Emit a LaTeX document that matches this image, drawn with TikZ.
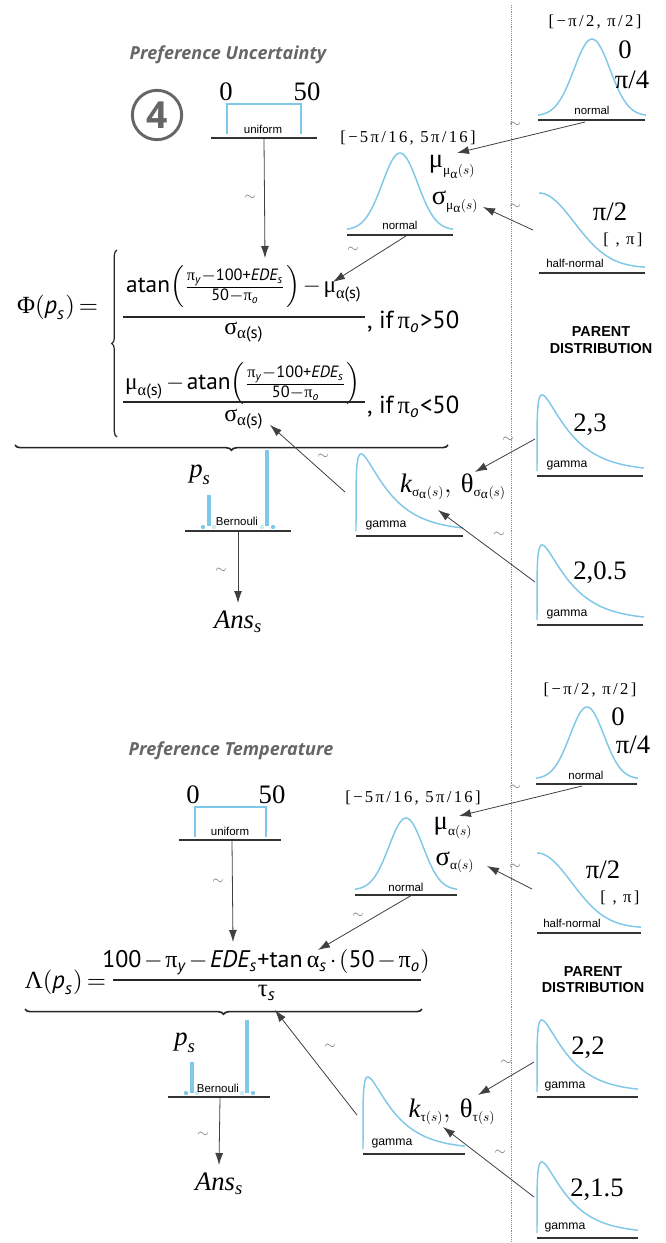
\documentclass[tikz,border=0pt]{standalone}
\usepackage{fontspec}
\usepackage{amsmath}
\usepackage{graphicx}
\usetikzlibrary{arrows.meta,decorations.pathreplacing}
\setmainfont{Liberation Serif}
\newfontfamily\fsans{PT Sans}
\newfontfamily\ftit{Open Sans}
\newfontfamily\fhelv{Liberation Sans}
\definecolor{dblue}{RGB}{128,200,232}
\definecolor{lblue}{RGB}{205,232,245}
\definecolor{tgray}{RGB}{102,102,102}
\newcommand\Ts[1]{\text{\fsans\upshape #1}}
\newcommand\Ti[1]{\text{\fsans\itshape #1}}
\newcommand\Tg[1]{\text{\rmfamily\upshape #1}}
\newcommand\fmsp{\medmuskip=2mu\relax\thickmuskip=3mu\relax}
\newcommand\bellc[4]{\draw[dist] plot[domain=-3:3,samples=61,smooth] ({#1+(\x)*#3/3},{#2-#4*exp(-0.5*(\x)*(\x))});}
\newcommand\halfc[4]{\draw[dist] plot[domain=0:3,samples=40,smooth] ({#1+(\x)*#3/3},{#2-#4*exp(-0.5*(\x)*(\x))});}
\newcommand\gammc[4]{\draw[dist] (#1,#2) -- plot[domain=0.05:2,samples=80,smooth] ({#1+(\x)*(\x)*#3/4},{#2-#4*pow(\x,0.38)*exp(-(\x)*(\x))/0.603});}
\newcommand\FM[2][1.9]{\scalebox{#1}{\fmsp$#2$}}
\tikzset{
  dist/.style={draw=dblue, line width=1.1pt},
  base/.style={draw=black!80, line width=1.1pt},
  arr/.style={draw=black!75, line width=0.6pt, -{Latex[length=9pt,width=6pt]}},
  sepline/.style={draw=black!45, line width=0.6pt, dash pattern=on 0.7pt off 0.7pt},
  tl/.style={font=\fontsize{11}{12}\selectfont, text=black!55},
  dlab/.style={font=\fhelv\fontsize{8.6}{10}\selectfont},
  glab/.style={font=\fhelv\fontsize{9.2}{10}\selectfont},
  lab/.style={font=\fontsize{20}{24}\selectfont},
  rng/.style={font=\fontsize{12.5}{14}\selectfont\addfontfeatures{LetterSpace=14}},
  par/.style={font=\fhelv\bfseries\fontsize{10.8}{13}\selectfont},
  title/.style={font=\ftit\bfseries\itshape\fontsize{13.5}{16}\selectfont, text=tgray},
  circ/.style={draw=tgray, circle, line width=2.2pt, minimum size=37pt, text=tgray, font=\ftit\bfseries\fontsize{28}{30}\selectfont},
  fm/.style={font=\fsans\fontsize{10}{12}\selectfont},
  fbar/.style={draw=black!85, line width=1.4pt},
  bracev/.style={draw=black!85, line width=0.9pt, decorate, decoration={brace, amplitude=4pt}},
  braceh/.style={draw=black!85, line width=1.2pt, decorate, decoration={brace, amplitude=4pt}},
  bar/.style={draw=dblue, line width=2.6pt},
  ans/.style={font=\fontsize{20}{24}\selectfont\itshape},
}
\begin{document}
\begin{tikzpicture}[x=0.75pt,y=-0.75pt, every node/.style={inner sep=0pt, outer sep=0pt}]
\useasboundingbox (0,0) rectangle (665,1243);
\fill[white] (0,0) rectangle (665,1243);
\draw[sepline] (511,5) -- (511,1243);

% ================= TOP =================
\node[title] (t1) at (228,55) {Preference Uncertainty};
\node[circ] (c4) at (157,115) {4};
% uniform
\node[lab] (u1lo) at (226,92) {0};
\node[lab] (u1hi) at (307,92) {50};
\draw[dist] (227,134) -- (227,104) -- (301,104) -- (301,134);
\node[dlab] (u1) at (263,129) {uniform};
\draw[base] (211,138) -- (317,138);
% top-right normal
\node[rng] (r1) at (595,22) {[−π/2, π/2]};
\bellc{592}{116}{54}{77}
\node[dlab] (n1) at (592,110) {normal};
\draw[base] (538,120) -- (645,120);
\node[lab] (n1m) at (625,50) {0};
\node[lab] (n1s) at (632,80) {π/4};
% middle normal
\node[rng] (r2) at (408,138) {[−5π/16, 5π/16]};
\bellc{400}{230}{53}{77}
\node[dlab] (n2) at (400,225) {normal};
\draw[base] (347,235) -- (453,235);
\node[lab] (mu1) at (452,167) {$\text{μ}_{\scriptscriptstyle\text{μ}_{\text{α}}(s)}$};
\node[lab] (sg1) at (455,202) {$\text{σ}_{\scriptscriptstyle\text{μ}_{\text{α}}(s)}$};
% half normal
\halfc{539}{268}{106}{75}
\node[dlab] (h1) at (575,263) {half-normal};
\draw[base] (539,273) -- (645,273);
\node[lab] (h1a) at (610,212) {π/2};
\node[rng] (h1b) at (623,240) {[ , π]};
% formula
\node[fm, anchor=west] (phi) at (17,307) {\FM[1.85]{\Tg{Φ}(\Ti{p}_{\Ti{s}})=}};
\draw[bracev] (117,437) -- (117,250);
\node[fm] (num1) at (244,287) {\FM[1.75]{\Ts{atan}\Bigl(\frac{\Tg{π}_{\Ti{y}}-\Ts{100+}\Ti{EDE}_{\Ti{s}}}{\Ts{50}-\Tg{π}_{\Ti{o}}}\Bigr)-\Tg{μ}_{\Tg{α}\Ts{(s)}}}};
\draw[fbar] (123,317) -- (365,317);
\node[fm] (den1) at (244,332) {\FM[1.8]{\Tg{σ}_{\Tg{α}\Ts{(s)}}}};
\node[fm, anchor=west] (if1) at (367,322) {\FM[1.85]{\Ts{, if\,}\Tg{π}_{\Ti{o}}\Ts{>50}}};
\node[fm] (num2) at (243,384) {\FM[1.75]{\Tg{μ}_{\Tg{α}\Ts{(s)}}-\Ts{atan}\Bigl(\frac{\Tg{π}_{\Ti{y}}-\Ts{100+}\Ti{EDE}_{\Ti{s}}}{\Ts{50}-\Tg{π}_{\Ti{o}}}\Bigr)}};
\draw[fbar] (123,402) -- (365,402);
\node[fm] (den2) at (244,419) {\FM[1.8]{\Tg{σ}_{\Tg{α}\Ts{(s)}}}};
\node[fm, anchor=west] (if2) at (367,407) {\FM[1.85]{\Ts{, if\,}\Tg{π}_{\Ti{o}}\Ts{<50}}};
\draw[braceh] (448,445) -- (15,445);
% bernoulli
\node[lab] (p1) at (200,475) {$\textit{p}_{\textit{s}}$};
\draw[bar] (209,495) -- (209,526);
\draw[bar] (267,450) -- (267,526);
\fill[dblue] (203,527) circle (1.6pt);
\fill[lblue] (214,527) circle (1.6pt);
\fill[lblue] (262,527) circle (1.6pt);
\fill[dblue] (273,527) circle (1.6pt);
\node[dlab] (b1) at (237,521) {Bernouli};
\draw[base] (185,531) -- (291,531);
\node[ans] (ans1) at (238,622) {Ans$_{\textit{s}}$};
% middle gamma
\gammc{356}{531}{107}{77}
\node[glab] (g1) at (386,525) {gamma};
\draw[base] (356,536) -- (463,536);
\node[lab] (kt1) at (453,487) {$\textit{k}_{\scriptscriptstyle\text{σ}_{\text{α}}(s)},\,\text{θ}_{\scriptscriptstyle\text{σ}_{\text{α}}(s)}$};
% parent
\node[par] (pd1a) at (601,332) {PARENT};
\node[par] (pd1b) at (601,349) {DISTRIBUTION};
\gammc{537}{471}{107}{76}
\node[glab] (g2) at (567,465) {gamma};
\draw[base] (537,476) -- (643,476);
\node[lab] (g2l) at (590,425) {2,3};
\gammc{537}{620}{107}{75}
\node[glab] (g3) at (567,614) {gamma};
\draw[base] (537,625) -- (643,625);
\node[lab] (g3l) at (600,573) {2,0.5};
% arrows top
\coordinate (a1s) at (264,139); \coordinate (a1e) at (265,258);
\coordinate (a2s) at (585,122); \coordinate (a2e) at (457,153);
\coordinate (a3s) at (533,230); \coordinate (a3e) at (483,207);
\coordinate (a4s) at (406,236); \coordinate (a4e) at (333,282);
\coordinate (a5s) at (345,492); \coordinate (a5e) at (270,425);
\coordinate (a6s) at (535,439); \coordinate (a6e) at (475,472);
\coordinate (a7s) at (535,582); \coordinate (a7e) at (438,510);
\coordinate (a8s) at (238,532); \coordinate (a8e) at (238,603);
\foreach \i in {1,...,8} {\draw[arr] (a\i s) -- (a\i e);}
\foreach \p in {(250,198),(515,125),(515,207),(353,250),(323,457),(508,440),(499,535),(221,571)} {\node[tl] at \p {$\sim$};}

% ================= BOTTOM =================
\node[title] (t2) at (231,751) {Preference Temperature};
\node[lab] (u2lo) at (193,795) {0};
\node[lab] (u2hi) at (272,795) {50};
\draw[dist] (195,837) -- (195,807) -- (266,807) -- (266,837);
\node[dlab] (u2) at (230,831) {uniform};
\draw[base] (179,840) -- (281,840);
% top-right normal
\node[rng] (r3) at (590,690) {[−π/2, π/2]};
\bellc{587}{779}{51}{72}
\node[dlab] (n3) at (586,775) {normal};
\draw[base] (536,784) -- (637,784);
\node[lab] (n3m) at (618,717) {0};
\node[lab] (n3s) at (633,745) {π/4};
% middle normal
\node[rng] (r4) at (413,798) {[−5π/16, 5π/16]};
\bellc{406}{890}{51}{72}
\node[dlab] (n4) at (406,887) {normal};
\draw[base] (355,895) -- (457,895);
\node[lab] (mu2) at (453,828) {$\text{μ}_{\scriptscriptstyle\text{α}(s)}$};
\node[lab] (sg2) at (455,862) {$\text{σ}_{\scriptscriptstyle\text{α}(s)}$};
% half normal
\halfc{537}{928}{104}{75}
\node[dlab] (h2) at (572,923) {half-normal};
\draw[base] (537,933) -- (641,933);
\node[lab] (h2a) at (603,870) {π/2};
\node[rng] (h2b) at (620,898) {[ , π]};
% formula
\node[fm, anchor=west] (lam) at (25,982) {\FM[1.85]{\Tg{Λ}(\Ti{p}_{\Ti{s}})=}};
\node[fm] (num3) at (266,962) {\FM[1.8]{\Ts{100}-\Tg{π}_{\Ti{y}}-\Ti{EDE}_{\Ti{s}}\Ts{+tan}\,\Tg{α}_{\Ti{s}}\cdot\left(\Ts{50}-\Tg{π}_{\Ti{o}}\right)}};
\draw[fbar] (113,980) -- (421,980);
\node[fm] (den3) at (267,993) {\FM[1.85]{\Tg{τ}_{\Ti{s}}}};
\draw[braceh] (422,1009) -- (25,1009);
% bernoulli
\node[lab] (p2) at (185,1043) {$\textit{p}_{\textit{s}}$};
\draw[bar] (192,1062) -- (192,1093);
\draw[bar] (247,1020) -- (247,1093);
\fill[dblue] (186,1093) circle (1.6pt);
\fill[lblue] (197,1093) circle (1.6pt);
\fill[lblue] (242,1093) circle (1.6pt);
\fill[dblue] (253,1093) circle (1.6pt);
\node[dlab] (b2) at (218,1088) {Bernouli};
\draw[base] (168,1097) -- (270,1097);
\node[ans] (ans2) at (219,1184) {Ans$_{\textit{s}}$};
% middle gamma
\gammc{363}{1149}{102}{72}
\node[glab] (g4) at (392,1143) {gamma};
\draw[base] (363,1154) -- (465,1154);
\node[lab] (kt2) at (452,1112) {$\textit{k}_{\scriptscriptstyle\text{τ}(s)},\,\text{θ}_{\scriptscriptstyle\text{τ}(s)}$};
% parent
\node[par] (pd2a) at (593,972) {PARENT};
\node[par] (pd2b) at (593,988) {DISTRIBUTION};
\gammc{537}{1092}{101}{72}
\node[glab] (g5) at (565,1086) {gamma};
\draw[base] (537,1097) -- (638,1097);
\node[lab] (g5l) at (588,1048) {2,2};
\gammc{537}{1233}{101}{71}
\node[glab] (g6) at (565,1227) {gamma};
\draw[base] (537,1238) -- (638,1238);
\node[lab] (g6l) at (597,1190) {2,1.5};
% arrows bottom
\coordinate (b1s) at (232,841); \coordinate (b1e) at (233,942);
\coordinate (b2s) at (582,786); \coordinate (b2e) at (459,816);
\coordinate (b3s) at (532,889); \coordinate (b3e) at (487,866);
\coordinate (b4s) at (412,895); \coordinate (b4e) at (318,950);
\coordinate (b5s) at (357,1115); \coordinate (b5e) at (275,1010);
\coordinate (b6s) at (534,1062); \coordinate (b6e) at (478,1095);
\coordinate (b7s) at (534,1197); \coordinate (b7e) at (443,1127);
\coordinate (b8s) at (220,1098); \coordinate (b8e) at (219,1165);
\foreach \i in {1,...,8} {\draw[arr] (b\i s) -- (b\i e);}
\foreach \p in {(218,882),(515,788),(515,867),(358,916),(330,1047),(506,1063),(500,1153),(203,1135)} {\node[tl] at \p {$\sim$};}
\end{tikzpicture}
\end{document}
